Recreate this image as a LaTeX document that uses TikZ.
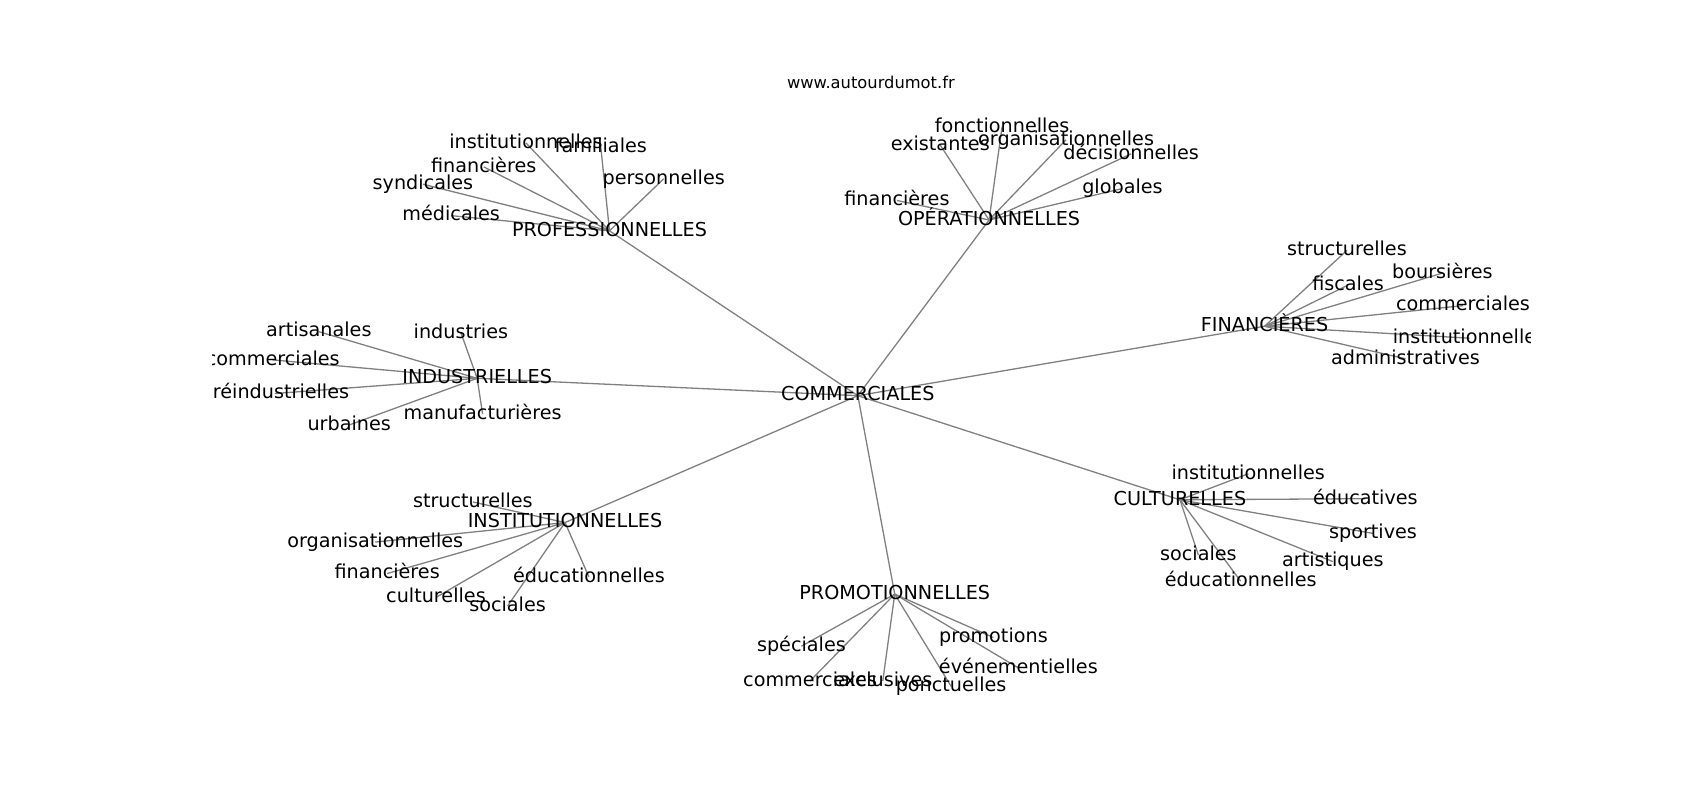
\documentclass[tikz,border=0pt]{standalone}
\usepackage{fontspec}
\setmainfont{DejaVu Sans}
\begin{document}
\begin{tikzpicture}[x=1.0845pt,y=-1.0845pt,
  lbl/.style={inner sep=0pt, anchor=center, text height=14.6pt, text depth=4pt, font=\fontsize{19.2}{23}\selectfont},
  edge/.style={draw={rgb,255:red,128;green,128;blue,128}, line width=1.3pt}]
\useasboundingbox (0pt,0pt) rectangle (1700pt,-800pt);
\node[inner sep=0pt, font=\fontsize{16.3}{20}\selectfont] (title) at (803,76) {www.autourdumot.fr};
\begin{scope}
\clip (212.5pt,-96pt) rectangle (1530pt,-712pt);
\begin{scope}[yshift=-2pt]
% hubs
\coordinate (C) at (791,363);
\coordinate (PRO) at (562,211);
\coordinate (OPE) at (912,201);
\coordinate (FIN) at (1166,299);
\coordinate (IND) at (440,347);
\coordinate (INS) at (521,480);
\coordinate (PROM) at (825,546);
\coordinate (CUL) at (1088,459);
% leaves PRO
\coordinate (p1) at (485,130);
\coordinate (p2) at (554,134);
\coordinate (p3) at (446,152);
\coordinate (p4) at (390,168);
\coordinate (p5) at (416,197);
\coordinate (p6) at (612,163);
% OPE
\coordinate (o1) at (924,115);
\coordinate (o2) at (867,132);
\coordinate (o3) at (983,127);
\coordinate (o4) at (1043,140);
\coordinate (o5) at (1035,172);
\coordinate (o6) at (827,183);
% FIN
\coordinate (f1) at (1242,229);
\coordinate (f2) at (1243,261);
\coordinate (f3) at (1330,250);
\coordinate (f4) at (1349,280);
\coordinate (f5) at (1355,310);
\coordinate (f6) at (1296,329);
% IND
\coordinate (i1) at (294,304);
\coordinate (i2) at (251.5,330);
\coordinate (i3) at (253.5,361);
\coordinate (i4) at (322,390);
\coordinate (i5) at (425,305);
\coordinate (i6) at (445,380);
% INS
\coordinate (s1) at (436,461);
\coordinate (s2) at (346,498);
\coordinate (s3) at (357,527);
\coordinate (s4) at (402,549);
\coordinate (s5) at (468,557);
\coordinate (s6) at (543,530);
% PROM
\coordinate (m1) at (739,594);
\coordinate (m2) at (747,626);
\coordinate (m3) at (814,626);
\coordinate (m4) at (877,631);
\coordinate (m5) at (916,586);
\coordinate (m6) at (939,614);
% CUL
\coordinate (c1) at (1151,435);
\coordinate (c2) at (1259,458);
\coordinate (c3) at (1266,490);
\coordinate (c4) at (1229,516);
\coordinate (c5) at (1105,510);
\coordinate (c6) at (1144,534);
% edges
\foreach \h in {PRO,OPE,FIN,IND,INS,PROM,CUL} \draw[edge] (C) -- (\h);
\foreach \l in {p1,p2,p3,p4,p5,p6} \draw[edge] (PRO) -- (\l);
\foreach \l in {o1,o2,o3,o4,o5,o6} \draw[edge] (OPE) -- (\l);
\foreach \l in {f1,f2,f3,f4,f5,f6} \draw[edge] (FIN) -- (\l);
\foreach \l in {i1,i2,i3,i4,i5,i6} \draw[edge] (IND) -- (\l);
\foreach \l in {s1,s2,s3,s4,s5,s6} \draw[edge] (INS) -- (\l);
\foreach \l in {m1,m2,m3,m4,m5,m6} \draw[edge] (PROM) -- (\l);
\foreach \l in {c1,c2,c3,c4,c5,c6} \draw[edge] (CUL) -- (\l);
% labels
\node[lbl] (tC) at (C) {COMMERCIALES};
\node[lbl] (tPRO) at (PRO) {PROFESSIONNELLES};
\node[lbl] (tOPE) at (OPE) {OPÉRATIONNELLES};
\node[lbl] (tFIN) at (FIN) {FINANCIÈRES};
\node[lbl] (tIND) at (IND) {INDUSTRIELLES};
\node[lbl] (tINS) at (INS) {INSTITUTIONNELLES};
\node[lbl] (tPROM) at (PROM) {PROMOTIONNELLES};
\node[lbl] (tCUL) at (CUL) {CULTURELLES};
\node[lbl] (tp1) at (p1) {institutionnelles};
\node[lbl] (tp2) at (p2) {familiales};
\node[lbl] (tp3) at (p3) {financières};
\node[lbl] (tp4) at (p4) {syndicales};
\node[lbl] (tp5) at (p5) {médicales};
\node[lbl] (tp6) at (p6) {personnelles};
\node[lbl] (to1) at (o1) {fonctionnelles};
\node[lbl] (to2) at (o2) {existantes};
\node[lbl] (to3) at (o3) {organisationnelles};
\node[lbl] (to4) at (o4) {décisionnelles};
\node[lbl] (to5) at (o5) {globales};
\node[lbl] (to6) at (o6) {financières};
\node[lbl] (tf1) at (f1) {structurelles};
\node[lbl] (tf2) at (f2) {fiscales};
\node[lbl] (tf3) at (f3) {boursières};
\node[lbl] (tf4) at (f4) {commerciales};
\node[lbl] (tf5) at (f5) {institutionnelles};
\node[lbl] (tf6) at (f6) {administratives};
\node[lbl] (ti1) at (i1) {artisanales};
\node[lbl] (ti2) at (i2) {commerciales};
\node[lbl] (ti3) at (i3) {préindustrielles};
\node[lbl] (ti4) at (i4) {urbaines};
\node[lbl] (ti5) at (i5) {industries};
\node[lbl] (ti6) at (i6) {manufacturières};
\node[lbl] (ts1) at (s1) {structurelles};
\node[lbl] (ts2) at (s2) {organisationnelles};
\node[lbl] (ts3) at (s3) {financières};
\node[lbl] (ts4) at (s4) {culturelles};
\node[lbl] (ts5) at (s5) {sociales};
\node[lbl] (ts6) at (s6) {éducationnelles};
\node[lbl] (tm1) at (m1) {spéciales};
\node[lbl] (tm2) at (m2) {commerciales};
\node[lbl] (tm3) at (m3) {exclusives};
\node[lbl] (tm4) at (m4) {ponctuelles};
\node[lbl] (tm5) at (m5) {promotions};
\node[lbl] (tm6) at (m6) {événementielles};
\node[lbl] (tc1) at (c1) {institutionnelles};
\node[lbl] (tc2) at (c2) {éducatives};
\node[lbl] (tc3) at (c3) {sportives};
\node[lbl] (tc4) at (c4) {artistiques};
\node[lbl] (tc5) at (c5) {sociales};
\node[lbl] (tc6) at (c6) {éducationnelles};
\end{scope}
\end{scope}
\end{tikzpicture}
\end{document}
